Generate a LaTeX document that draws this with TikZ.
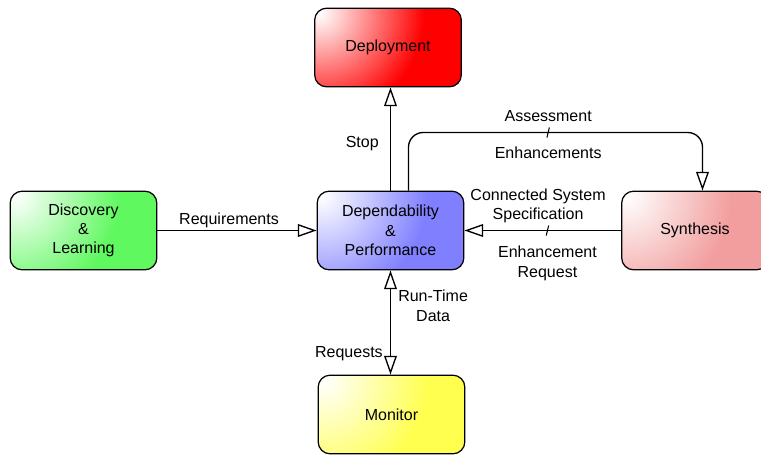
\documentclass[tikz,border=0pt]{standalone}
\usepackage{fontspec}
\setmainfont{Liberation Sans}
\usetikzlibrary{arrows.meta}

\definecolor{deployred}{RGB}{255,0,0}
\definecolor{dependblue}{RGB}{128,128,255}
\definecolor{discgreen}{RGB}{95,248,95}
\definecolor{synthpink}{RGB}{242,158,158}
\definecolor{monyellow}{RGB}{255,255,80}
\colorlet{glowcol}{white}
\pgfdeclareradialshading[glowcol]{glow}{\pgfpointorigin}
  {color(0bp)=(white); color(13bp)=(glowcol); color(50bp)=(glowcol)}
\tikzstyle{block}=[draw, line width=0.9pt, rounded corners=9pt, align=center,
                   minimum width=110pt, minimum height=59pt]
\tikzstyle{tint}=[fill=#1, path picture={\colorlet{glowcol}{#1}
    \shade[shading=glow]
      ([shift={(4pt,-4pt)}]path picture bounding box.north west) circle (150pt);}]

\begin{document}
\begin{tikzpicture}[x=0.75pt, y=-0.75pt, line width=1pt,
    >={Triangle[open,length=14pt,width=9.5pt]},
    every node/.style={font=\fontsize{12}{14.5}\selectfont}]
  \useasboundingbox (0,0) rectangle (761,454);

  \node[block,tint=deployred]  (deploy) at (388,47.5)  {Deployment};
  \node[block,tint=dependblue] (dep)    at (390.5,230.5) {Dependability\\\&\\Performance};
  \node[block,tint=discgreen]  (disc)   at (83.5,230.5)  {Discovery\\\&\\Learning};
  \node[block,tint=synthpink]  (synth)  at (695,230.5) {Synthesis};
  \node[block,tint=monyellow]  (mon)    at (391.5,414.5) {Monitor};

  \coordinate (loopL) at (408.5,132.5);
  \coordinate (loopR) at (702.5,132.5);

  \draw[->] (dep.north) -- (dep.north |- deploy.south)
    node[pos=0.46,left=5pt] {Stop};
  \draw[->] (disc.east) -- (dep.west)
    node[pos=0.45,above=-2pt] {Requirements};
  \draw[->,rounded corners=11pt] (loopL |- dep.north) -- (loopL) --
    node[pos=0.475,above=4pt] {Assessment}
    node[pos=0.475,below=7pt] {Enhancements}
    coordinate[pos=0.475] (tickA)
    (loopR) -- (loopR |- synth.north);
  \draw[->] (synth.west) -- (dep.east)
    node[pos=0.53,above=2pt,align=center] {Connected System\\Specification}
    node[pos=0.47,below=8pt,align=center] {Enhancement\\Request}
    coordinate[pos=0.47] (tickB);
  \draw[<->] (dep.south) -- (dep.south |- mon.north)
    node[pos=0.34,right=2pt,align=center] {Run-Time\\Data}
    node[pos=0.8,left=2pt] {Requests};

  % little slashes on the two labelled lines
  \draw[line width=0.8pt] ([shift={(-1.2,5)}]tickA) -- ([shift={(1.2,-5)}]tickA);
  \draw[line width=0.8pt] ([shift={(-1.2,5)}]tickB) -- ([shift={(1.2,-5)}]tickB);
\end{tikzpicture}
\end{document}
